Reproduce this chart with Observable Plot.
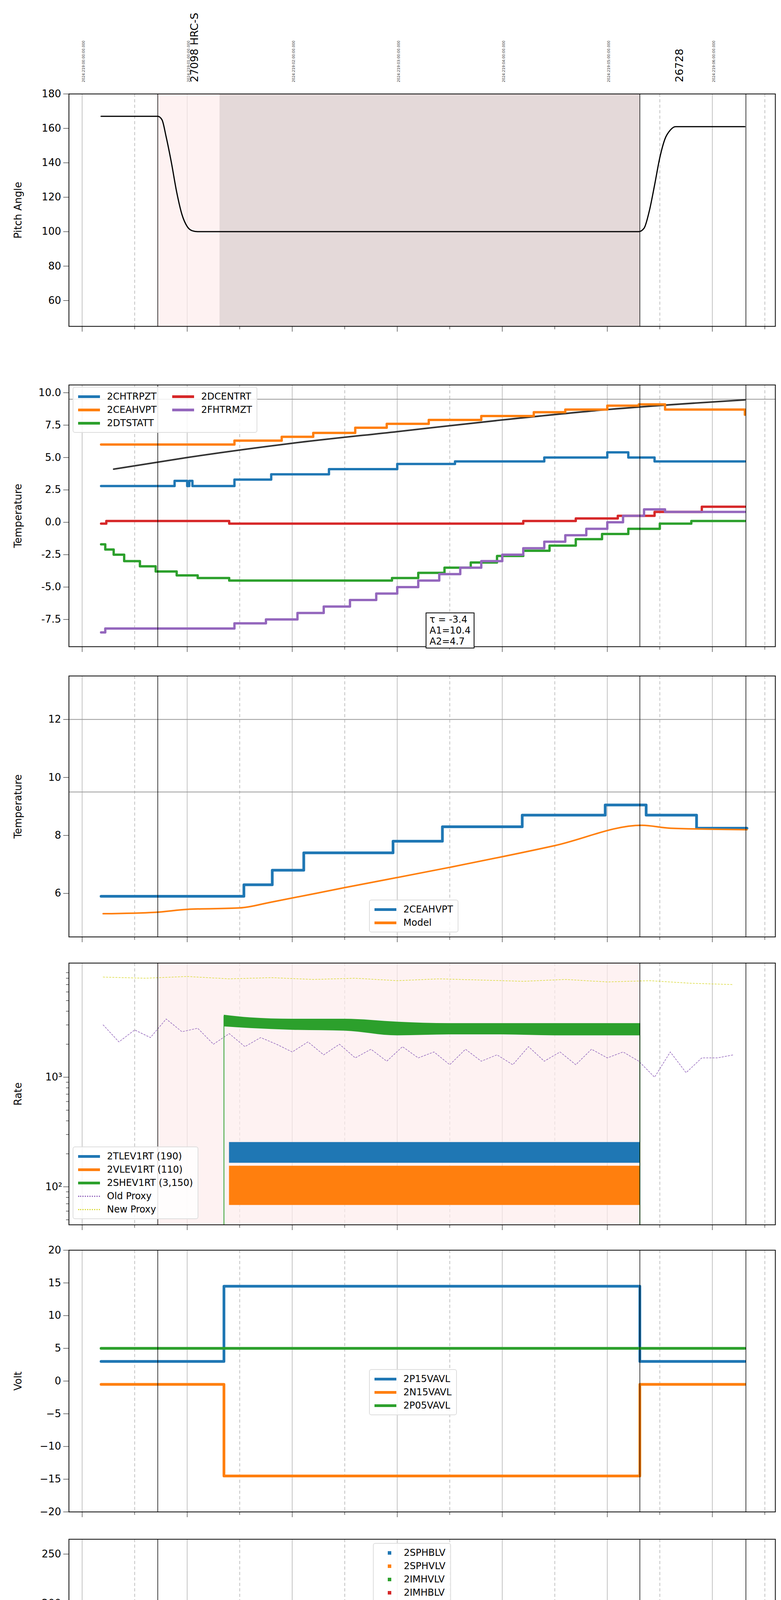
<!DOCTYPE html>
<html><head><meta charset="utf-8">
<script src="https://cdn.jsdelivr.net/npm/d3@7"></script>
<script src="https://cdn.jsdelivr.net/npm/@observablehq/plot@0.6"></script>
<style>
body{margin:0;background:#fff;font-family:"DejaVu Sans",sans-serif}
#wrap{position:relative;width:2000px;height:6200px}
svg{display:block}
.leg{position:absolute;background:rgba(255,255,255,0.85);border:2px solid #ddd;border-radius:6px;padding:6px 12px;font-size:24px;font-family:"DejaVu Sans";line-height:34px}
.leg .it{display:flex;align-items:center;white-space:nowrap}
.leg .sw{display:inline-block;width:56px;height:7px;margin-right:18px}
.leg .dot{display:inline-block;width:9px;height:9px;margin:0 32px 0 24px}
.box{position:absolute;border:2px solid #000;background:#fff;font-size:24px;padding:2px 8px;line-height:28px}
</style></head><body><div id="wrap"></div>
<script>
const C={blue:"#1f77b4",orange:"#ff7f0e",green:"#2ca02c",red:"#d62728",purple:"#9467bd",yellow:"#dbdb3d"};
const hourTicks=[20,21,22,23,24,25,26];
const halfTicks=[20.5,21.5,22.5,23.5,24.5,25.5,26.5];
const topLabels=["2024:219:00:00:00.000","2024:219:01:00:00.000","2024:219:02:00:00.000","2024:219:03:00:00.000","2024:219:04:00:00.000","2024:219:05:00:00.000","2024:219:06:00:00.000"];
const obsTimes=[21.0,25.62], obsLabels=["27098 HRC-S","26728"];
const eventLines=[20.72,25.31,26.32];
const pinkSpan=[20.72,25.31];
const darkSpan=[21.31,25.31];
const zoneA=[22.73,22.76,22.8,22.84,22.87,22.9,22.93,22.96,23.0,23.03,23.06,23.1,23.13,23.16,23.2,23.23,23.26];
const zoneB=[23.88,23.91,23.94,23.97,24.0,24.04,24.1,24.17,24.21,24.25,24.28,24.31,24.34];

const pitchT=[20.18,20.72,20.76,20.8,20.85,20.9,20.95,21.0,21.05,21.1,25.3,25.35,25.4,25.45,25.5,25.55,25.6,25.65,26.31];
const pitchV=[167,167,165,155,140,123,110,103,100.5,100,100,102,112,127,143,154,159,161,161];

const chtrT=[20.18,20.88,21.0,21.02,21.05,21.45,21.8,22.35,23.0,23.55,24.4,25.0,25.2,25.45,26.31];
const chtrV=[2.8,3.2,2.8,3.2,2.8,3.3,3.7,4.1,4.5,4.7,5.0,5.4,5.0,4.7,4.7];
const ceaT=[20.18,21.45,21.9,22.2,22.6,22.9,23.3,23.8,24.3,24.6,25.0,25.3,25.55,26.31];
const ceaV=[6.0,6.3,6.6,6.9,7.3,7.6,7.9,8.2,8.5,8.7,9.0,9.1,8.7,8.3];
const dtsT=[20.18,20.22,20.3,20.4,20.55,20.7,20.9,21.1,21.4,22.95,23.2,23.45,23.7,23.95,24.2,24.45,24.7,24.95,25.2,25.5,25.8,26.31];
const dtsV=[-1.7,-2.1,-2.5,-3.0,-3.4,-3.8,-4.1,-4.3,-4.5,-4.3,-3.9,-3.5,-3.1,-2.6,-2.2,-1.8,-1.3,-0.9,-0.5,-0.1,0.1,0.1];
const dcenT=[20.18,20.23,21.4,24.2,24.7,25.1,25.45,25.9,26.31];
const dcenV=[-0.1,0.1,-0.1,0.1,0.3,0.5,0.8,1.2,1.2];
const fhtT=[20.18,20.22,21.45,21.75,22.05,22.3,22.55,22.8,23.0,23.2,23.4,23.6,23.8,24.0,24.2,24.4,24.6,24.8,25.0,25.15,25.35,25.55,26.31];
const fhtV=[-8.5,-8.2,-7.8,-7.5,-7.0,-6.5,-6.0,-5.5,-5.0,-4.5,-4.0,-3.5,-3.0,-2.5,-2.0,-1.5,-1.0,-0.5,0.0,0.5,1.0,0.8,0.8];
const fitT=[20.3,21.0,22.0,23.0,24.0,25.0,26.31], fitV=[4.1,5.0,6.1,7.0,7.9,8.7,9.45];

const p2T=[20.18,21.54,21.81,22.11,22.96,23.43,24.19,24.98,25.37,25.85,26.33];
const p2V=[5.9,6.3,6.8,7.4,7.8,8.3,8.7,9.05,8.7,8.25,8.25];
const modT=[20.2,20.7,21.0,21.5,21.8,22.5,23.5,24.5,25.33,25.6,26.33];
const modV=[5.3,5.35,5.45,5.5,5.7,6.2,6.9,7.65,8.35,8.25,8.2];

const oldT=[20.2,20.35,20.5,20.65,20.8,20.95,21.1,21.25,21.4,21.55,21.7,21.85,22.0,22.15,22.3,22.45,22.6,22.75,22.9,23.05,23.2,23.35,23.5,23.65,23.8,23.95,24.1,24.25,24.4,24.55,24.7,24.85,25.0,25.15,25.3,25.45,25.6,25.75,25.9,26.05,26.2];
const oldV=[3000,2100,2700,2300,3400,2600,2800,2000,2500,1900,2300,2000,1700,2100,1600,2000,1500,1800,1400,1900,1500,1700,1300,1800,1400,1600,1300,1900,1400,1700,1300,1800,1500,1700,1400,1000,1700,1100,1500,1500,1600];
const newT=[20.2,20.6,21.0,21.4,21.8,22.2,22.6,23.0,23.4,23.8,24.2,24.6,25.0,25.4,25.8,26.2];
const newV=[8200,8000,8300,7900,8100,7800,8000,7600,7900,7700,7500,7800,7400,7600,7200,7000];
const greenT=[21.35,21.6,22.0,22.5,23.0,23.5,24.0,24.5,25.0,25.31];
const greenLo=[2900,2800,2700,2650,2400,2450,2450,2400,2400,2400];
const greenHi=[3700,3500,3400,3400,3200,3100,3100,3100,3100,3100];
const bandT=[21.4,25.31];
const blueLo=165, blueHi=255, orLo=68, orHi=155;

const voltT=[20.18,21.35,25.31,26.31];
const p15=[3,14.5,3,3], n15=[-0.5,-14.5,-0.5,-0.5], p05=[5,5,5,5];

const hvDecT=[21.37,21.38,21.39,21.4,21.42,21.44,21.47,21.5];
const hvBlue=[118,110,100,92,86,82,79,78];
const hvOr=[126,122,118,98,84,76,73,72];
const hvOut=[22.96,23.0,23.04,23.1,23.13,23.18,23.26,24.0,24.04,24.08,24.12,24.17,24.24,24.3];

const sphvT=[21.35,21.45,21.6,21.8,22.0,22.25,22.5,22.8,23.1,23.5,24.0,24.45,24.9,25.31,25.8,26.31];
const sphvV=[13.8,14.2,14.7,15.2,15.7,16.2,16.7,17.2,17.6,18.1,18.6,18.9,19.3,19.7,20.2,20.5];
const imhvT=[21.35,21.6,22.0,22.4,22.8,23.2,23.6,24.0,24.4,24.8,25.31];
const imhvV=[13.3,13.6,13.8,14.0,14.3,14.6,14.9,15.1,15.4,15.8,15.9];
const spinT=[21.35,23.85,25.31], spinV=[1.8,2.0,2.0];
const iminT=[21.35,22.9,24.38,25.31], iminV=[-0.6,-0.4,-0.3,-0.3];

const f1T=[20.18,20.2,21.0,21.45,21.6,21.75,21.95,22.2,22.45,22.7,22.9,23.1,23.35,23.55,23.75,24.0,24.2,24.4,24.6,24.8,25.0,25.2,25.45,25.75,26.25,26.31];
const f1V=[-8.4,-8.0,-7.65,-7.2,-6.7,-6.3,-5.9,-5.4,-5.0,-4.5,-4.0,-3.6,-3.2,-2.7,-2.3,-1.8,-1.4,-0.9,-0.5,0.0,0.4,0.9,1.3,0.9,0.1,0.1];
const f2T=[21.35,21.4,21.5,21.55,21.6,21.65,21.75,21.85,22.0,22.2,22.4,22.55,22.75,23.0,23.3,23.6,23.9,24.2,24.5,24.8,25.1,25.4,25.7,26.0,26.31];
const f2V=[-8.7,-8.1,-7.7,-7.3,-6.8,-6.3,-5.8,-5.2,-4.8,-4.2,-3.8,-3.4,-2.9,-2.4,-2.0,-1.5,-1.0,-0.6,0.0,0.5,1.0,1.8,2.3,2.7,2.7];
const f3T=[21.95,22.0,22.15,22.35,22.5,22.6,22.85,23.1,23.4,23.7,24.0,24.3,24.6,24.9,25.2,25.5,25.8,26.1,26.31];
const f3V=[-8.7,-8.2,-7.7,-7.2,-6.7,-6.2,-5.8,-5.3,-4.8,-4.3,-3.8,-3.3,-2.8,-2.3,-1.8,-1.4,-1.0,-1.6,-2.1];
const f4T=[21.7,21.85,22.0,22.15,22.3,22.45,22.6,22.75,22.9,23.1,23.4,23.7,24.0,24.3,24.6,24.9,25.31];
const f4V=[-8.6,-8.1,-7.6,-7.0,-6.5,-6.0,-5.5,-4.7,-4.2,-3.6,-3.0,-2.4,-1.8,-1.2,-0.6,-0.1,0.3];

const X=[19.874,26.6];
const fmtH=h=>String(Math.round(h)%24).padStart(2,"0")+"h";
const zip=(t,v)=>t.map((x,i)=>({x,y:v[i]}));

const L=[[0,240,835,910],[910,985,1655,1692],[1692,1730,2398,2430],[2430,2465,3135,3167],[3167,3200,3870,3905],[3905,3940,4610,4645],[4645,4680,5350,5385],[5385,5420,6110,6200]];
const wrap=document.getElementById("wrap");

function base(i,opts,marks,bottom){
  const [s,t,b,e]=L[i];
  const ms=[
    Plot.ruleX(hourTicks,{stroke:"#b0b0b0",strokeWidth:1.5}),
    Plot.ruleX(halfTicks,{stroke:"#b0b0b0",strokeWidth:1.5,strokeDasharray:"8,6"}),
    ...marks,
    Plot.ruleX(eventLines,{stroke:"#000",strokeWidth:1.5}),
    Plot.axisX(hourTicks,{tickSize:bottom?30:14,tickWidth:2,tickFormat:bottom?fmtH:()=>"",fontSize:30,tickPadding:20,label:null}),
    Plot.axisX(halfTicks,{tickSize:bottom?18:8,tickWidth:1.5,tickFormat:bottom?()=>"30":()=>"",fontSize:18,tickPadding:6,label:null}),
    Plot.frame({stroke:"#000",strokeWidth:2})
  ];
  const p=Plot.plot({width:2000,height:e-s,marginTop:t-s,marginBottom:e-b,marginLeft:176,marginRight:15,
    style:{fontFamily:"DejaVu Sans",fontSize:"24px",background:"white"},
    x:{domain:X,axis:null},...opts,marks:ms});
  p.style.position="absolute";p.style.top=s+"px";p.style.left="0px";
  wrap.appendChild(p);
}
function yax(ticks,label,fmt){
  return Plot.axisY(ticks,{tickSize:14,tickWidth:2.5,fontSize:26,tickPadding:6,label,labelAnchor:"center",labelArrow:"none",labelOffset:140,tickFormat:fmt});
}
function legend(top,left,items,cols,dot){
  const d=document.createElement("div");d.className="leg";d.style.top=top+"px";d.style.left=left+"px";
  if(cols>1){d.style.display="grid";d.style.gridTemplateColumns="auto auto";d.style.gridAutoFlow="column";d.style.gridTemplateRows=`repeat(${Math.ceil(items.length/cols)},auto)`;d.style.columnGap="40px";}
  items.forEach(([n,c,dash])=>{const it=document.createElement("div");it.className="it";
    it.innerHTML=(dot?`<span class="dot" style="background:${c}"></span>`:`<span class="sw" style="background:${dash?"none":c};${dash?`border-top:3px ${dash} ${c};height:0`:""}"></span>`)+n;d.appendChild(it);});
  d.style.zIndex=5;
  wrap.appendChild(d);
}
const step=(t,v,c,w=6)=>Plot.line(zip(t,v),{x:"x",y:"y",stroke:c,strokeWidth:w,curve:"step-after"});
const pink=Plot.rectY([pinkSpan],{x1:d=>d[0],x2:d=>d[1],y1:-1e9,y2:1e9,fill:"#fdecec",fillOpacity:0.7,clip:true});
const pinkLog=Plot.rectY([pinkSpan],{x1:d=>d[0],x2:d=>d[1],y1:1,y2:1e6,fill:"#fdecec",fillOpacity:0.7,clip:true});

base(0,{y:{domain:[45,180]}},[
  Plot.rectY([pinkSpan],{x1:d=>d[0],x2:d=>d[1],y1:45,y2:180,fill:"#fdecec",fillOpacity:0.7}),
  Plot.rectY([darkSpan],{x1:d=>d[0],x2:d=>d[1],y1:45,y2:180,fill:"#e4d9d9"}),
  yax([60,80,100,120,140,160,180],"Pitch Angle"),
  Plot.line(zip(pitchT,pitchV),{x:"x",y:"y",stroke:"#000",strokeWidth:3,curve:"monotone-x"}),
  Plot.text(topLabels,{x:(d,i)=>hourTicks[i],frameAnchor:"top",dy:-30,rotate:-90,textAnchor:"start",text:d=>d,fontSize:9,fill:"#333"}),
  Plot.text(obsLabels,{x:(d,i)=>obsTimes[i],frameAnchor:"top",dy:-30,dx:8,rotate:-90,textAnchor:"start",text:d=>d,fontSize:27,fontWeight:(d,i)=>i==0?"bold":"normal"})
]);
base(1,{y:{domain:[-9.6,10.6]}},[
  pink, yax([-7.5,-5,-2.5,0,2.5,5,7.5,10],"Temperature",d=>d.toFixed(1)),
  Plot.ruleY([9.5],{stroke:"#999",strokeWidth:2}),
  Plot.line(zip(fitT,fitV),{x:"x",y:"y",stroke:"#333",strokeWidth:4,curve:"monotone-x"}),
  step(chtrT,chtrV,C.blue),step(ceaT,ceaV,C.orange),step(dtsT,dtsV,C.green),step(dcenT,dcenV,C.red),step(fhtT,fhtV,C.purple)
]);
legend(990,186,[["2CHTRPZT",C.blue],["2CEAHVPT",C.orange],["2DTSTATT",C.green],["2DCENTRT",C.red],["2FHTRMZT",C.purple]],2);
{const b=document.createElement("div");b.className="box";b.style.top="1568px";b.style.left="1090px";b.style.zIndex=5;b.innerHTML="τ = -3.4<br>A1=10.4<br>A2=4.7";wrap.appendChild(b);}
base(2,{y:{domain:[4.5,13.5]}},[
  pink, yax([6,8,10,12],"Temperature",d=>String(d)),
  Plot.ruleY([12,9.5],{stroke:"#999",strokeWidth:2}),
  step(p2T,p2V,C.blue,7),
  Plot.line(zip(modT,modV),{x:"x",y:"y",stroke:C.orange,strokeWidth:4,curve:"monotone-x"})
]);
legend(2303,945,[["2CEAHVPT",C.blue],["Model",C.orange]],1);
base(3,{y:{type:"log",domain:[45,11000]}},[
  pinkLog,
  Plot.axisY([50,60,70,80,90,200,300,400,500,600,700,800,900,2000,3000,4000,5000,6000,7000,8000,9000],{tickSize:7,tickFormat:()=>"",label:null}),
  Plot.axisY([100,1000],{tickSize:14,tickWidth:2.5,fontSize:26,tickFormat:d=>d==100?"10²":"10³",label:"Rate",labelAnchor:"center",labelArrow:"none",labelOffset:140}),
  Plot.line(zip(newT,newV),{x:"x",y:"y",stroke:C.yellow,strokeWidth:1.5,strokeDasharray:"4,4"}),
  Plot.line(zip(oldT,oldV),{x:"x",y:"y",stroke:C.purple,strokeWidth:1.5,strokeDasharray:"4,4"}),
  Plot.rectY([bandT],{x1:d=>d[0],x2:d=>d[1],y1:blueLo,y2:blueHi,fill:C.blue}),
  Plot.rectY([bandT],{x1:d=>d[0],x2:d=>d[1],y1:orLo,y2:orHi,fill:C.orange}),
  Plot.areaY(greenT.map((t,i)=>({t,a:greenLo[i],b:greenHi[i]})),{x:"t",y1:"a",y2:"b",fill:C.green,curve:"monotone-x"}),
  Plot.ruleX([21.35],{y1:45,y2:3600,stroke:C.green,strokeWidth:2}),
  Plot.ruleX([25.31],{y1:45,y2:3100,stroke:C.green,strokeWidth:2})
]);
legend(2935,186,[["2TLEV1RT (190)",C.blue],["2VLEV1RT (110)",C.orange],["2SHEV1RT (3,150)",C.green],["Old Proxy",C.purple,"dotted"],["New Proxy",C.yellow,"dotted"]],1);
base(4,{y:{domain:[-20,20]}},[
  pink, yax([-20,-15,-10,-5,0,5,10,15,20],"Volt"),
  step(voltT,p15,C.blue,7),step(voltT,n15,C.orange,7),step(voltT,p05,C.green,7)
]);
legend(3505,945,[["2P15VAVL",C.blue],["2N15VAVL",C.orange],["2P05VAVL",C.green]],1);
base(5,{y:{domain:[0,265]}},[
  pink, yax([0,50,100,150,200,250],"HV Monitor"),
  Plot.dot(zip(hvDecT,hvBlue),{x:"x",y:"y",fill:C.blue,r:5}),
  Plot.dot(zip(hvDecT,hvOr),{x:"x",y:"y",fill:C.orange,r:5}),
  Plot.line(zip([21.5,25.31],[78,78]),{x:"x",y:"y",stroke:C.blue,strokeWidth:9}),
  Plot.line(zip([21.5,25.31],[72,72]),{x:"x",y:"y",stroke:C.orange,strokeWidth:9}),
  Plot.dot(hvOut,{x:d=>d,y:126,fill:C.orange,r:4,symbol:"square"})
]);
legend(3950,955,[["2SPHBLV",C.blue],["2SPHVLV",C.orange],["2IMHVLV",C.green],["2IMHBLV",C.red]],1,true);
const zones=[...zoneA,...zoneB];
base(6,{y:{domain:[-2.3,21.5]}},[
  pink, yax([0,5,10,15,20],"Detector Temp"),
  Plot.ruleX(zones,{y1:-2.3,y2:1.8,stroke:C.blue,strokeWidth:8,clip:true}),
  step(spinT,spinV,C.blue),
  Plot.ruleX(zones,{y1:-0.5,y2:1.8,stroke:C.green,strokeWidth:8}),
  step(iminT,iminV,C.green),
  Plot.ruleX(zones,{y1:8.6,y2:18.2,stroke:C.orange,strokeWidth:8}),
  step(sphvT,sphvV,C.orange),
  Plot.ruleX(zones,{y1:14.5,y2:18.4,stroke:C.red,strokeWidth:8}),
  step(imhvT,imhvV,C.red),
  Plot.ruleX([25.31],{y1:15.9,y2:21.5,stroke:C.red,strokeWidth:7})
]);
legend(4688,1690,[["2SPINATM",C.blue],["2SPHVATM",C.orange],["2IMINATM",C.green],["2IMHVATM",C.red]],1);
base(7,{y:{domain:[-8.7,2.7]}},[
  pink, yax([-8,-6,-4,-2,0,2],"FEA Temp"),
  step(f1T,f1V,C.blue),step(f3T,f3V,C.orange),
  Plot.ruleX([...zoneA.slice(0,10),...zoneB],{y1:-6.0,y2:-2,stroke:C.green,strokeWidth:7}),
  step(f2T,f2V,C.green),
  Plot.ruleX(zoneA,{y1:-8.7,y2:2.7,stroke:C.red,strokeWidth:7}),
  Plot.ruleX(zoneB,{y1:-2,y2:2.7,stroke:C.red,strokeWidth:7}),
  step(f4T,f4V,C.red),
  Plot.ruleX([25.31],{y1:-8.7,y2:2.7,stroke:C.red,strokeWidth:7}),
  Plot.text(["2024-08-06 (219)"],{frameAnchor:"bottom",dy:78,text:d=>d,fontSize:30})
],true);
legend(5980,1712,[["2FHTRMZT",C.blue],["2FRADPYT",C.orange],["2FEPRATM",C.green],["2FE00ATM",C.red]],1);
</script></body></html>
